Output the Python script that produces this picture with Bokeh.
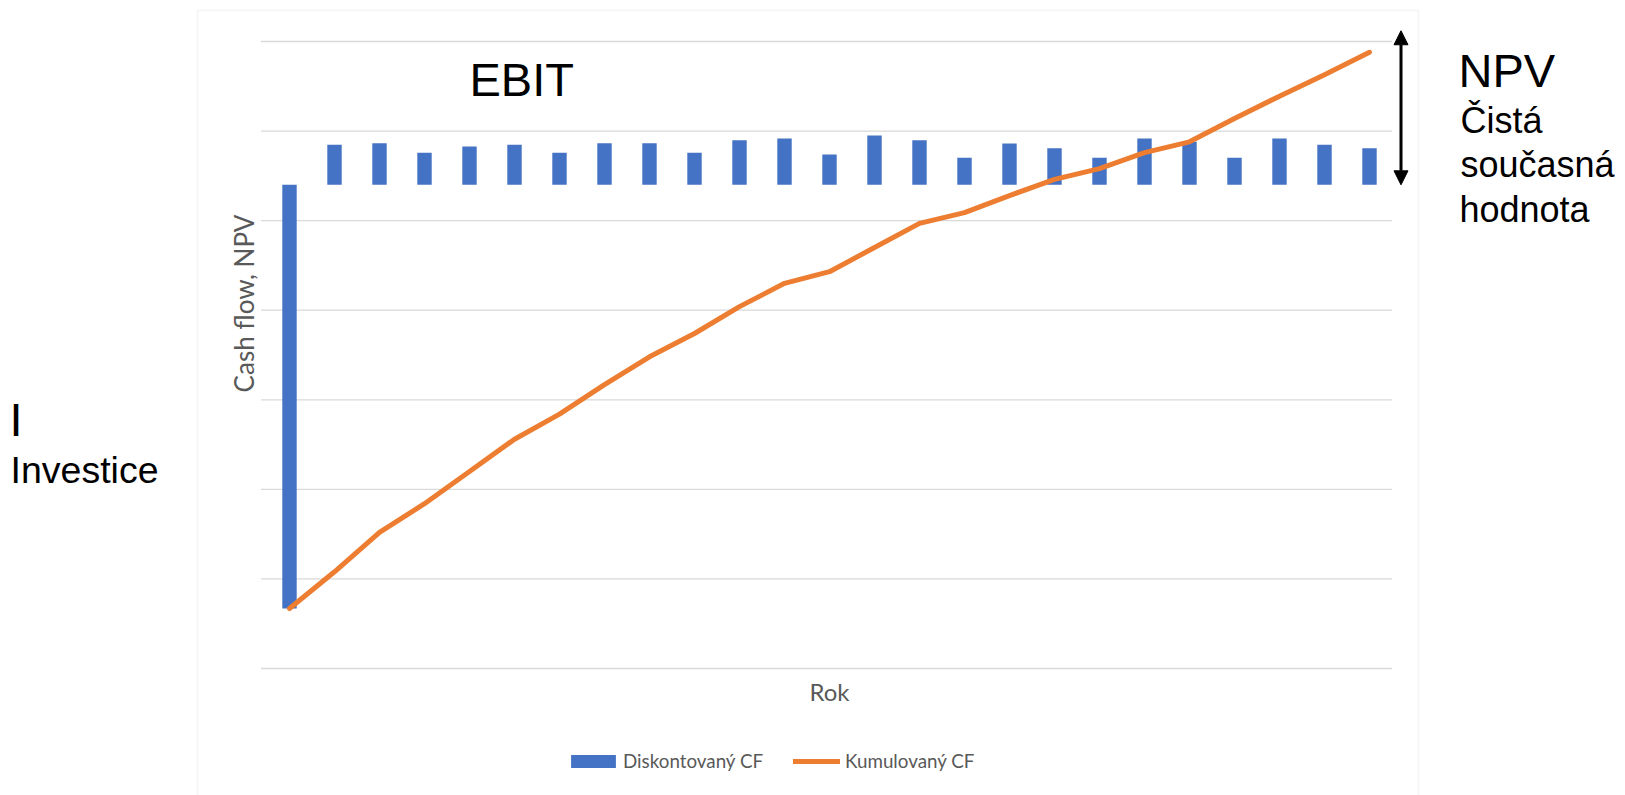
from math import pi
from bokeh.plotting import figure
from bokeh.models import (Label, Legend, LegendItem, Arrow, NormalHead,
                          BoxAnnotation, Range1d)
from bokeh.embed import file_html
from bokeh.resources import INLINE

# ---------------- data ----------------
years = list(range(25))
discounted_cf = [-473, 44.6, 46.4, 35.7, 42.7, 44.6, 35.7, 46.4, 46.4, 35.7,
                 49.8, 51.7, 33.8, 55.0, 49.8, 30.1, 46.1, 40.8, 30.1, 51.7,
                 48.0, 30.1, 51.7, 44.6, 40.8]
cumulative_cf = [-473, -432, -388, -356, -320, -284, -256, -223, -192, -166,
                 -136, -110, -97, -70, -43, -31, -12, 6, 18, 36,
                 48, 74, 99, 123, 148]
grid_values = [-540, -440, -340, -240, -140, -40, 60, 160]
npv_arrow = [0, 172]

series_names = ["Diskontovaný CF", "Kumulovaný CF"]
x_title = "Rok"
y_title = "Cash flow, NPV"

# ---------------- layout ----------------
W, H = 1625, 795
# plot area in canvas pixels
PA_L, PA_R, PA_T, PA_B = 266.5, 1391.5, 41.0, 668.0
X0, X1 = -0.5, 24.5
Y0, Y1 = grid_values[0], grid_values[-1]
sx = (PA_R - PA_L) / (X1 - X0)
sy = (PA_B - PA_T) / (Y1 - Y0)
x_range = Range1d(X0 - PA_L / sx, X1 + (W - PA_R) / sx)
y_range = Range1d(Y0 - (H - PA_B) / sy, Y1 + PA_T / sy)

BLUE = "#4472C4"
ORANGE = "#ED7D31"
GRID = "#D9D9D9"
GRAY = "#595959"
SANS = "Liberation Sans"
CAL = "Lato"

p = figure(width=W, height=H, output_backend="svg", toolbar_location=None,
           x_range=x_range, y_range=y_range,
           x_axis_location=None, y_axis_location=None,
           min_border=0)
p.outline_line_color = None
p.background_fill_color = "white"
p.border_fill_color = "white"
p.grid.visible = False

# card border
card = BoxAnnotation(left=197, right=1418, top=H - 10, bottom=-20,
                     left_units="screen", right_units="screen",
                     top_units="screen", bottom_units="screen",
                     fill_color=None, fill_alpha=0, line_color=GRID, line_width=1.5,
                     level="underlay")
p.add_layout(card)

# horizontal gridlines limited to the plot area
grid_x0 = [X0 - 6 / sx] * len(grid_values)
grid_x1 = [X1] * len(grid_values)
p.segment(x0=grid_x0, x1=grid_x1, y0=grid_values, y1=grid_values,
          line_color=GRID, line_width=1.3)

# ---------------- marks ----------------
bars = p.vbar(x=years, top=discounted_cf, bottom=0, width=0.32,
              fill_color=BLUE, line_color=None)
line = p.line(years, cumulative_cf, line_color=ORANGE, line_width=5,
              line_join="round", line_cap="round")

# NPV arrow
p.add_layout(Arrow(x_start=24.7, y_start=npv_arrow[0], x_end=24.7, y_end=npv_arrow[1],
                   line_color="black", line_width=3,
                   start=NormalHead(size=14, fill_color="black", line_color="black"),
                   end=NormalHead(size=14, fill_color="black", line_color="black")))

# axis titles
p.add_layout(Label(x=243, y=H - 303, x_units="screen", y_units="screen",
                   text=y_title, angle=pi / 2, text_align="center", text_baseline="middle",
                   text_font=CAL, text_font_size="26px", text_color=GRAY))
p.add_layout(Label(x=(PA_L + PA_R) / 2, y=H - 691, x_units="screen", y_units="screen",
                   text=x_title, text_align="center", text_baseline="alphabetic",
                   text_font=CAL, text_font_size="24px", text_color=GRAY))

# annotation texts
def add_label(text, cx, baseline, size):
    p.add_layout(Label(x=cx, y=H - baseline, x_units="screen", y_units="screen",
                       text=text, text_font=SANS, text_font_size=f"{size}px",
                       text_color="black", text_align="left", text_baseline="alphabetic"))

add_label("EBIT", 469, 79, 47)
add_label("NPV", 1458, 70, 47)
add_label("Čistá", 1460, 120, 36)
add_label("současná", 1460, 164, 36)
add_label("hodnota", 1459, 209, 36)
add_label("I", 9, 419, 47)
add_label("Investice", 10, 469, 37.5)

# legends (two, so each swatch gets its own size)
common = dict(orientation="horizontal", padding=0, margin=0, border_line_color=None,
              background_fill_alpha=0, label_text_font=CAL, label_text_font_size="18.8px",
              label_text_color=GRAY)
leg1 = Legend(items=[LegendItem(label=series_names[0], renderers=[bars])],
              location=(565, H - 772), glyph_width=56, glyph_height=16,
              label_standoff=2, **common)
leg2 = Legend(items=[LegendItem(label=series_names[1], renderers=[line])],
              location=(793, H - 772), glyph_width=47, glyph_height=16,
              label_standoff=5, **common)
p.add_layout(leg1)
p.add_layout(leg2)

open("out.html", "w").write(file_html(p, INLINE))
